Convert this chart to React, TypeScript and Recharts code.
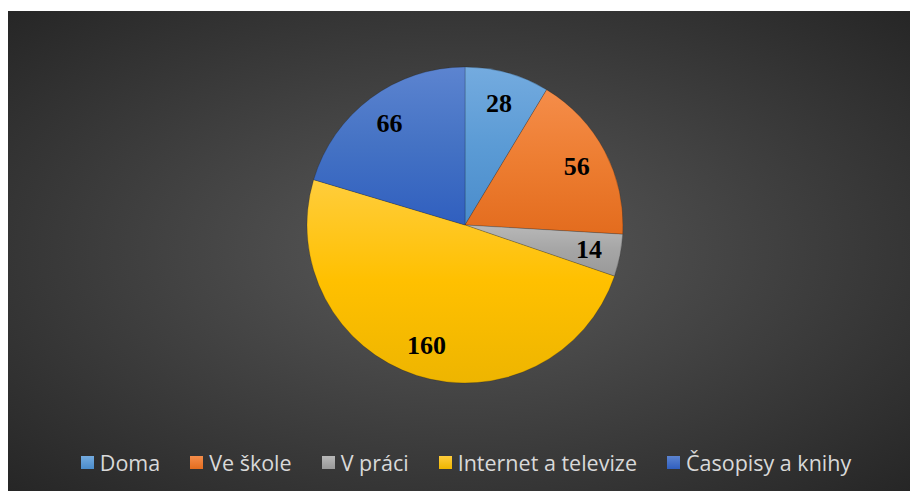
import React from 'react';
import { PieChart, Pie, Cell, Legend } from 'recharts';

const categories = ['Doma', 'Ve škole', 'V práci', 'Internet a televize', 'Časopisy a knihy'];
const values = [28, 56, 14, 160, 66];
const colors = ['#5B9BD5', '#ED7D31', '#A5A5A5', '#FFC000', '#4472C4'];
const lightColors = ['#74ABDF', '#F58D4A', '#B8B8B8', '#FFCD3C', '#5C84D0'];
const darkColors = ['#4A8CCB', '#E36C1E', '#999999', '#EEB500', '#305FBF'];

const data = categories.map((name, i) => ({ name, value: values[i] }));

const RADIAN = Math.PI / 180;

const renderLabel = (props: any) => {
    const { cx, cy, midAngle, outerRadius, value } = props;
    const r = outerRadius * 0.8;
    const x = cx + r * Math.cos(-midAngle * RADIAN);
    const y = cy + r * Math.sin(-midAngle * RADIAN);
    return (
        <text
            x={x}
            y={y}
            fill="#000"
            textAnchor="middle"
            dominantBaseline="central"
            fontFamily="'Liberation Serif', 'Times New Roman', serif"
            fontWeight="bold"
            fontSize={26}
        >
            {value}
        </text>
    );
};

const renderLegend = () => (
    <div style={{ display: 'flex', justifyContent: 'center', gap: 30, fontFamily: "'Open Sans', sans-serif", fontSize: 21.5, color: '#D9D9D9', paddingLeft: 14 }}>
        {categories.map((c, i) => (
            <div key={c} style={{ display: 'flex', alignItems: 'center' }}>
                <span style={{ display: 'inline-block', width: 13, height: 13, marginRight: 6, background: `linear-gradient(${lightColors[i]}, ${darkColors[i]})` }} />
                <span>{c}</span>
            </div>
        ))}
    </div>
);

export default function App() {
    return (
        <div
            style={{
                position: 'absolute',
                left: 8,
                top: 11,
                width: 902,
                height: 480,
                background: 'radial-gradient(ellipse farthest-corner at 50% 50%, #5a5a5a 0%, #262626 100%)',
            }}
        >
            <PieChart width={902} height={480}>
                <defs>
                    {colors.map((c, i) => (
                        <linearGradient key={c} id={`grad${i}`} x1="0" y1="0" x2="0" y2="1">
                            <stop offset="0%" stopColor={lightColors[i]} />
                            <stop offset="50%" stopColor={c} />
                            <stop offset="100%" stopColor={darkColors[i]} />
                        </linearGradient>
                    ))}
                </defs>
                <Pie
                    data={data}
                    dataKey="value"
                    nameKey="name"
                    cx={452}
                    cy={209}
                    outerRadius={158}
                    startAngle={90}
                    endAngle={-270}
                    label={renderLabel}
                    labelLine={false}
                    stroke="rgba(0,0,0,0.25)"
                    strokeWidth={0.75}
                    isAnimationActive={false}
                >
                    {data.map((d, i) => (
                        <Cell key={d.name} fill={`url(#grad${i})`} />
                    ))}
                </Pie>
                <Legend content={renderLegend} verticalAlign="bottom" wrapperStyle={{ bottom: 14 }} />
            </PieChart>
        </div>
    );
}
